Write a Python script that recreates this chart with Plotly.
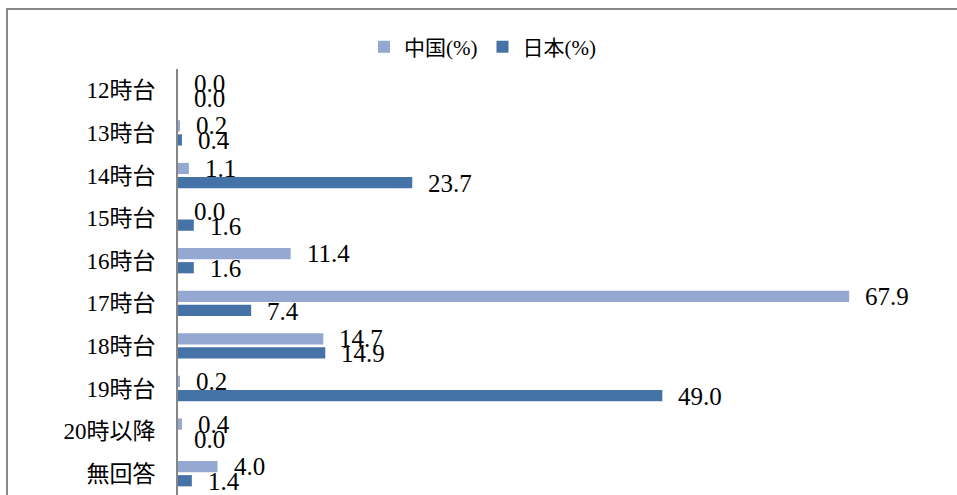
import plotly.graph_objects as go

# Survey answers by time slot (percent)
categories = ["12時台", "13時台", "14時台", "15時台", "16時台",
              "17時台", "18時台", "19時台", "20時以降", "無回答"]
china_pct = [0.0, 0.2, 1.1, 0.0, 11.4, 67.9, 14.7, 0.2, 0.4, 4.0]
japan_pct = [0.0, 0.4, 23.7, 1.6, 1.6, 7.4, 14.9, 49.0, 0.0, 1.4]
series_names = ["中国(%)", "日本(%)"]

CHINA_COLOR = "#94A8D2"
JAPAN_COLOR = "#4673A7"
FRAME_COLOR = "#888888"
FONT = "Liberation Serif, 'Noto Sans CJK JP', serif"

W, H = 957, 495
L, R, T, B = 178, 8, 69, 0
plot_w = W - L - R
plot_h = H - T - B
x_max = 78

fig = go.Figure()
fig.add_trace(go.Bar(y=categories, x=china_pct, name=series_names[0],
                     orientation="h", marker=dict(color=CHINA_COLOR, line_width=0)))
fig.add_trace(go.Bar(y=categories, x=japan_pct, name=series_names[1],
                     orientation="h", marker=dict(color=JAPAN_COLOR, line_width=0)))

# value labels to the right of each bar
annotations = []
for cat, v in zip(categories, china_pct):
    annotations.append(dict(x=v, y=cat, xref="x", yref="y", text=f"{v:.1f}",
                            showarrow=False, xanchor="left", yanchor="middle",
                            xshift=14, yshift=7,
                            font=dict(family=FONT, size=25, color="#000000")))
for cat, v in zip(categories, japan_pct):
    annotations.append(dict(x=v, y=cat, xref="x", yref="y", text=f"{v:.1f}",
                            showarrow=False, xanchor="left", yanchor="middle",
                            xshift=14, yshift=-8,
                            font=dict(family=FONT, size=25, color="#000000")))


def px_x(p):
    return (p - L) / plot_w


def px_y(p):
    return (H - B - p) / plot_h


# outer chart frame (top and left edges)
shapes = [
    dict(type="line", xref="paper", yref="paper",
         x0=px_x(6), x1=px_x(970), y0=px_y(9), y1=px_y(9),
         line=dict(color=FRAME_COLOR, width=2)),
    dict(type="line", xref="paper", yref="paper",
         x0=px_x(7), x1=px_x(7), y0=px_y(8), y1=px_y(500),
         line=dict(color=FRAME_COLOR, width=2)),
]

fig.update_layout(
    width=W, height=H,
    margin=dict(l=L, r=R, t=T, b=B, pad=0),
    paper_bgcolor="white", plot_bgcolor="white",
    barmode="group", bargap=0.34, bargroupgap=0.2,
    font=dict(family=FONT, size=22, color="#000000"),
    showlegend=True,
    legend=dict(orientation="h", x=px_x(364), y=px_y(47), xanchor="left",
                yanchor="middle", font=dict(family=FONT, size=21, color="#000000"),
                bgcolor="rgba(0,0,0,0)", traceorder="normal"),
    xaxis=dict(range=[0, x_max], visible=False, showgrid=False, zeroline=False),
    yaxis=dict(range=[9.5, -0.5], showline=True, linecolor="#868686", linewidth=2,
               showgrid=False, zeroline=False, ticks="outside", ticklen=0,
               ticklabelstandoff=16, tickfont=dict(family=FONT, size=23, color="#000000")),
    annotations=annotations,
    shapes=shapes,
)

fig.write_html("out.html")
